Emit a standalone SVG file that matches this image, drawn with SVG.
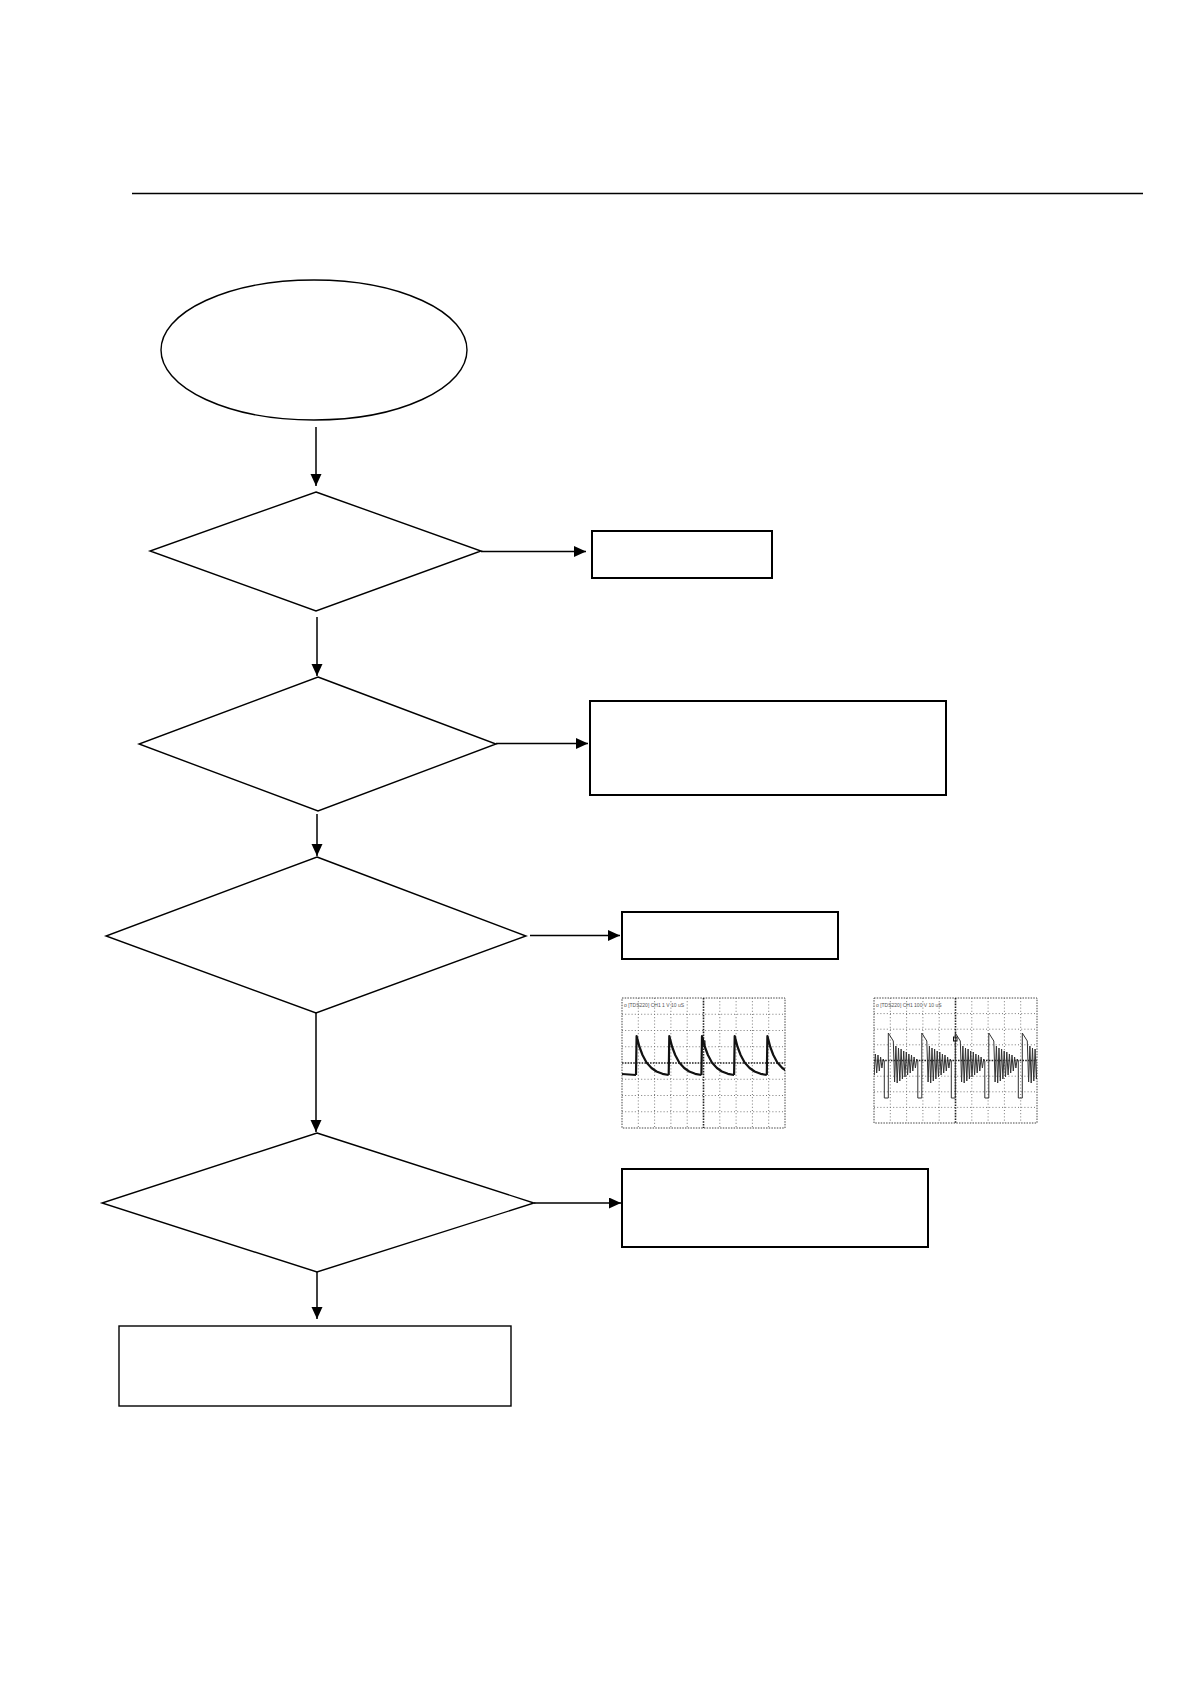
<svg xmlns="http://www.w3.org/2000/svg" width="1190" height="1684" viewBox="0 0 1190 1684">
<style>
.shape{fill:#fff;stroke:#000;stroke-width:1.4}
.box{fill:#fff;stroke:#000;stroke-width:2}
.conn{fill:none;stroke:#000;stroke-width:1.5}
.grid{stroke:#777;stroke-width:1;stroke-dasharray:1 2.2;fill:none}
.axis{stroke:#222;stroke-width:1.6;stroke-dasharray:1.6 1.2;fill:none}
.frame{fill:#fff;stroke:#444;stroke-width:1;stroke-dasharray:1.5 1.2}
.lbl{font-family:"Liberation Sans",Arial,sans-serif;font-size:5px;fill:#555}
</style>
<defs>
<marker id="ah" markerUnits="userSpaceOnUse" markerWidth="13" markerHeight="12" refX="12" refY="5.5" orient="auto">
<path d="M0,0 L12,5.5 L0,11 Z" fill="#000"/>
</marker>
<clipPath id="c1"><rect x="622" y="998" width="163" height="130"/></clipPath>
<clipPath id="c2"><rect x="874" y="998" width="163" height="125"/></clipPath>
<path id="w1" d="M0,1075 L0.6,1036 L3.5,1047 L6.5,1055 L10.5,1062.5 L15.5,1068 L20.5,1071.5 L26.5,1073.8 L32.7,1075"/>
<path id="w2" d="M0,1061 L0,1098 L4,1098 L4,1033 L9,1041 L10.3,1082 L11.6,1046 L12.9,1083 L14.2,1048 L15.5,1081 L16.8,1049 L18.1,1079 L19.4,1051 L20.7,1077 L22,1052 L23.3,1075 L24.6,1054 L25.9,1073 L27.2,1055 L28.5,1071 L29.8,1057 L31.1,1068 L32.4,1059 L33.5,1061"/>
</defs>
<rect width="1190" height="1684" fill="#fff"/>
<line x1="132" y1="193.5" x2="1143" y2="193.5" stroke="#000" stroke-width="1.3"/>

<g id="start"><ellipse class="shape" cx="314" cy="350" rx="153" ry="70"/></g>
<g id="decision1"><polygon class="shape" points="316,492 481,551 316,611 150,551"/></g>
<g id="box1"><rect class="box" x="592" y="531" width="180" height="47"/></g>
<g id="decision2"><polygon class="shape" points="318,677 496,744 318,811 139,744"/></g>
<g id="box2"><rect class="box" x="590" y="701" width="356" height="94"/></g>
<g id="decision3"><polygon class="shape" points="317,857 526,936 316,1013 106,936"/></g>
<g id="box3"><rect class="box" x="622" y="912" width="216" height="47"/></g>
<g id="decision4"><polygon class="shape" points="317,1133 534,1203 317,1272 102,1203"/></g>
<g id="box4"><rect class="box" x="622" y="1169" width="306" height="78"/></g>
<g id="box5"><rect class="shape" x="119" y="1326" width="392" height="80"/></g>

<g id="scope1">
<rect class="frame" x="622" y="998" width="163" height="130"/>
<path class="grid" d="M638.3,998V1128M654.6,998V1128M670.9,998V1128M687.2,998V1128M719.8,998V1128M736.1,998V1128M752.4,998V1128M768.7,998V1128M622,1014.25H785M622,1030.5H785M622,1046.75H785M622,1079.25H785M622,1095.5H785M622,1111.75H785"/>
<path class="axis" d="M703.5,998V1128M622,1063H785"/>
<text class="lbl" x="624" y="1007">o [TDS220] CH1  1 V   10 uS</text>
<g clip-path="url(#c1)" fill="none" stroke="#111" stroke-width="2.2" stroke-linejoin="round">
<path d="M622,1074 L636,1075"/>
<use href="#w1" x="636"/>
<use href="#w1" x="668.7"/>
<use href="#w1" x="701.4"/>
<use href="#w1" x="734.1"/>
<use href="#w1" x="766.8"/>
</g>
<rect x="701.5" y="1041" width="3.5" height="4" fill="none" stroke="#111" stroke-width="1"/>
</g>

<g id="scope2">
<rect class="frame" x="874" y="998" width="163" height="125"/>
<path class="grid" d="M890.3,998V1123M906.6,998V1123M922.9,998V1123M939.2,998V1123M971.8,998V1123M988.1,998V1123M1004.4,998V1123M1020.7,998V1123M874,1013.6H1037M874,1029.2H1037M874,1044.8H1037M874,1076.2H1037M874,1091.8H1037M874,1107.4H1037"/>
<path class="axis" d="M955.5,998V1123M874,1060.5H1037"/>
<text class="lbl" x="876" y="1007">o [TDS220] CH1  100 V   10 uS</text>
<g clip-path="url(#c2)" fill="none" stroke="#333" stroke-width="1" stroke-linejoin="round">
<use href="#w2" x="850.8"/>
<use href="#w2" x="884.3"/>
<use href="#w2" x="917.8"/>
<use href="#w2" x="951.3"/>
<use href="#w2" x="984.8"/>
<use href="#w2" x="1018.3"/>
</g>
<rect x="953.5" y="1037" width="3.5" height="4" fill="none" stroke="#111" stroke-width="1"/>
</g>

<g id="connectors" class="conn">
<line x1="316" y1="427" x2="316" y2="486" marker-end="url(#ah)"/>
<line x1="481" y1="551.5" x2="586" y2="551.5" marker-end="url(#ah)"/>
<line x1="317" y1="617" x2="317" y2="676" marker-end="url(#ah)"/>
<line x1="496" y1="743.5" x2="588" y2="743.5" marker-end="url(#ah)"/>
<line x1="317" y1="814" x2="317" y2="856" marker-end="url(#ah)"/>
<line x1="530" y1="935.5" x2="620" y2="935.5" marker-end="url(#ah)"/>
<line x1="316" y1="1013" x2="316" y2="1132" marker-end="url(#ah)"/>
<line x1="534" y1="1203" x2="621" y2="1203" marker-end="url(#ah)"/>
<line x1="317" y1="1272" x2="317" y2="1319" marker-end="url(#ah)"/>
</g>
</svg>
